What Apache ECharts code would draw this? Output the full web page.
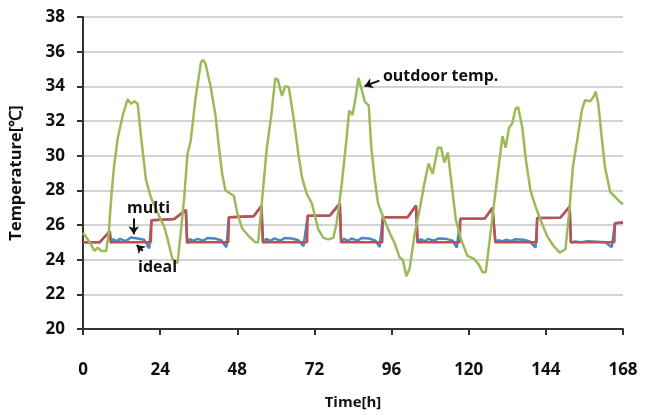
<!DOCTYPE html>
<html>
<head>
<meta charset="utf-8">
<script src="https://cdn.jsdelivr.net/npm/echarts@6/dist/echarts.min.js"></script>
<style>
  html, body { margin: 0; padding: 0; background: #fff; }
  #chart { width: 652px; height: 415px; }
</style>
</head>
<body>
<div id="chart"></div>
<script>
// hour, temperature pairs
var idealPts = [
  [0,25.0],[5.2,25.0],[8.3,25.64],[8.7,25.0],[21.1,25.0],
  [21.3,26.27],[28.4,26.35],[32.0,26.87],[32.4,25.0],[45.2,25.0],
  [45.4,26.45],[53.1,26.5],[55.5,27.1],[56.0,25.0],[69.7,25.0],
  [69.9,26.53],[76.8,26.55],[79.9,27.25],[80.3,25.0],[93.1,25.0],
  [93.3,26.45],[101,26.45],[103.6,27.12],[104.1,25.0],[117.2,25.0],
  [117.4,26.36],[125,26.38],[127.4,27.0],[128.3,25.0],[141.1,25.0],
  [141.3,26.4],[148.5,26.42],[151.4,27.06],[151.8,25.0],[165.3,25.0],
  [165.5,26.1],[168,26.15]
];
var multiPts = [
  [0,25.0],[5.2,25.0],[8.3,25.64],[8.7,24.95],
  [9.3,25.18],[10.5,25.07],[11.5,25.2],[13.3,25.07],[14.9,25.28],[17,25.22],[19,25.15],[20.6,24.65],
  [21.3,26.27],[28.4,26.35],[32.0,26.87],[32.4,24.95],
  [33.2,25.18],[34.5,25.08],[35.5,25.2],[37.5,25.1],[38.7,25.25],[41,25.22],[43,25.12],[44.6,24.72],
  [45.4,26.45],[53.1,26.5],[55.5,27.1],[56.0,24.98],
  [57,25.2],[58.3,25.08],[59.5,25.22],[61.5,25.1],[62.7,25.25],[65,25.22],[67,25.12],[68.6,24.78],
  [69.9,26.53],[76.8,26.55],[79.9,27.25],[80.3,24.98],
  [81.2,25.2],[82.5,25.08],[83.5,25.22],[85.5,25.1],[86.7,25.25],[89,25.22],[91,25.1],[92.3,24.72],
  [93.3,26.45],[101,26.45],[103.6,27.12],[104.1,24.98],
  [105,25.18],[106.3,25.05],[107.3,25.2],[109.3,25.1],[110.5,25.22],[113,25.2],[115,25.1],[116.3,24.7],
  [117.4,26.36],[125,26.38],[127.4,27.0],[128.3,24.98],
  [129.2,25.12],[130.5,25.05],[131.5,25.15],[133.3,25.08],[134.5,25.18],[137,25.15],[139,25.05],[140.8,24.7],
  [141.3,26.4],[148.5,26.42],[151.4,27.06],[151.8,24.98],
  [153,25.05],[155,25.0],[157,25.06],[160,25.03],[162.5,25.0],[164.5,24.72],
  [165.5,26.1],[168,26.15]
];
var outdoorPts = [
  [0,25.55],[2.1,25.0],[3.6,24.5],[4.6,24.7],[5.7,24.5],[7.2,24.5],[8,25.55],[8.8,27.6],
  [9.6,29.3],[10.8,31.0],[12.4,32.35],[13.9,33.26],[14.9,33.0],[16,33.14],[17,33.0],[18,31.2],
  [19.6,28.6],[21.1,27.6],[23.7,26.5],[25.3,25.9],[26.3,25.2],[27.8,24.05],[29.4,23.8],[30.4,25.55],
  [31.5,27.6],[32.5,30.1],[33.5,30.85],[35,33.3],[36.7,35.4],[37.4,35.52],[38.1,35.3],[39.7,34.0],
  [41.2,32.35],[42.3,30.46],[43.3,28.95],[44.3,28.0],[45.9,27.8],[46.9,27.7],[48,26.7],[49.5,25.8],
  [51.6,25.35],[53.6,25.0],[54.5,25.0],[55.7,27.44],[57.2,30.46],[58.6,32.35],[59.8,34.45],[60.6,34.4],
  [61.9,33.45],[62.9,34.0],[64,33.96],[65.5,32.2],[67,30.1],[68.1,28.76],[69.6,27.8],[71.2,27.25],
  [73.2,25.74],[74.8,25.26],[76.3,25.17],[77.9,25.26],[78.9,26.1],[80.4,28.2],[82,31.0],[82.8,32.6],
  [83.8,32.35],[84.6,33.1],[85.7,34.49],[86.6,33.86],[87.7,33.1],[88.9,32.9],[89.7,30.46],[90.8,28.57],
  [91.8,27.25],[93.3,26.5],[95.4,25.55],[96.9,24.98],[98.5,24.13],[99.5,24.0],[100.6,23.05],[101.6,23.47],
  [103.1,25.36],[104.7,26.87],[106.2,28.38],[107.5,29.55],[108.8,28.95],[110.4,30.46],[111.4,30.46],[112.4,29.61],
  [113.5,30.18],[114.8,28.19],[116,26.3],[117.6,25.17],[119.6,24.22],[121.7,24.04],[123.2,23.7],[124.3,23.28],
  [125.3,23.28],[126.3,24.8],[127.9,27.25],[129.4,29.51],[130.5,31.12],[131.5,30.46],[132.5,31.59],[133.6,31.88],
  [134.6,32.73],[135.4,32.79],[136.7,31.59],[137.7,29.89],[139.2,28.0],[140.8,27.06],[142.3,26.3],[144.4,25.36],
  [146.4,24.79],[148.3,24.41],[150.1,24.6],[151.4,27.06],[152.4,29.33],[153.7,30.84],[155.2,32.63],[156.2,33.2],
  [157.8,33.14],[158.8,33.39],[159.5,33.7],[160.3,33.0],[161.4,31.03],[162.4,29.33],[164,27.91],[165.5,27.63],
  [167,27.34],[168,27.2]
];

var labelFont = '"Open Sans", "Liberation Sans", sans-serif';
var myChart = echarts.init(document.getElementById('chart'));

function note(text, at, align) {
    return {
        coord: at,
        symbol: 'circle', symbolSize: 1,
        itemStyle: { color: 'rgba(0,0,0,0)' },
        label: {
            show: true, position: 'inside', formatter: text, align: align || 'center',
            color: '#111', fontWeight: 'bold', fontSize: 16, fontFamily: labelFont
        }
    };
}
function arrow(from, to) {
    return [{ coord: from }, { coord: to }];
}

myChart.setOption({
    animation: false,
    backgroundColor: '#fff',
    grid: { left: 80, right: 29, top: 17, bottom: 81 },
    xAxis: {
        type: 'value',
        min: 0, max: 168, interval: 24,
        name: 'Time[h]',
        nameLocation: 'middle',
        nameGap: 66,
        nameTextStyle: { color: '#111', fontWeight: 'bold', fontSize: 15, fontFamily: labelFont },
        axisLine: { show: true, onZero: false, lineStyle: { color: '#333', width: 2 } },
        axisTick: { show: true, length: 6, lineStyle: { color: '#333', width: 2 } },
        axisLabel: { margin: 33, color: '#111', fontWeight: 'bold', fontSize: 17, fontFamily: labelFont },
        splitLine: { show: false }
    },
    yAxis: {
        type: 'value',
        min: 20, max: 38, interval: 2,
        name: 'Temperature[\u2103]',
        nameLocation: 'middle',
        nameGap: 58,
        nameTextStyle: { color: '#111', fontWeight: 'bold', fontSize: 16.5, fontFamily: labelFont },
        axisLine: { show: true, lineStyle: { color: '#333', width: 2 } },
        axisTick: { show: true, length: 6, lineStyle: { color: '#333', width: 2 } },
        axisLabel: { margin: 18, color: '#111', fontWeight: 'bold', fontSize: 17, fontFamily: labelFont },
        splitLine: { show: true, lineStyle: { color: '#c4c4c4', width: 1.5 } }
    },
    series: [
        {
            name: 'multi',
            type: 'line',
            data: multiPts,
            showSymbol: false,
            lineStyle: { color: '#4a86c8', width: 2.5 },
            itemStyle: { color: '#4a86c8' }
        },
        {
            name: 'ideal',
            type: 'line',
            data: idealPts,
            showSymbol: false,
            lineStyle: { color: '#c0504d', width: 2.5 },
            itemStyle: { color: '#c0504d' }
        },
        {
            name: 'outdoor temp.',
            type: 'line',
            data: outdoorPts,
            showSymbol: false,
            lineStyle: { color: '#9bbb59', width: 2.5 },
            itemStyle: { color: '#9bbb59' },
            markPoint: {
                silent: true,
                data: [
                    note('multi', [20.4, 26.95]),
                    note('ideal', [23.2, 23.54]),
                    note('outdoor temp.', [93.3, 34.58], 'left')
                ]
            },
            markLine: {
                silent: true,
                symbol: ['none', 'arrow'],
                symbolSize: 8,
                label: { show: false },
                lineStyle: { color: '#111', width: 2, type: 'solid' },
                data: [
                    arrow([15.8, 26.38], [15.8, 25.47]),
                    arrow([18.6, 24.51], [16.7, 24.85]),
                    arrow([92.2, 34.33], [87.6, 34.01])
                ]
            }
        }
    ]
});
</script>
</body>
</html>
